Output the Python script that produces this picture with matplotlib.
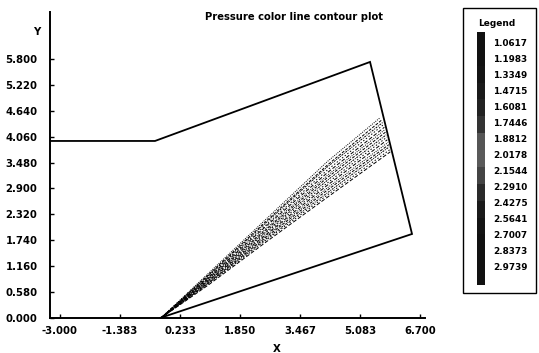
import matplotlib.pyplot as plt
from matplotlib.colors import ListedColormap
import numpy as np

# contour levels shown in the legend
levels = [1.0617, 1.1983, 1.3349, 1.4715, 1.6081, 1.7446, 1.8812, 2.0178,
          2.1544, 2.2910, 2.4275, 2.5641, 2.7007, 2.8373, 2.9739]

xticks = [-3.000, -1.383, 0.233, 1.850, 3.467, 5.083, 6.700]
yticks = [0.000, 0.580, 1.160, 1.740, 2.320, 2.900, 3.480, 4.060, 4.640, 5.220, 5.800]

# domain outline
outline_x = [-3.27, -0.44, 5.354, 6.485, -0.305]
outline_y = [3.963, 3.963, 5.732, 1.881, 0.0]

# contour lines: points at x = start, 1.0, 2.6, 4.2, end
c_start_x = -0.28
c_x1, c_x2, c_x3 = 1.0, 2.6, 4.2
c_y1 = [1.00, 0.97, 0.95, 0.94, 0.91, 0.90, 0.88, 0.86, 0.84, 0.83, 0.81, 0.79, 0.78, 0.76, 0.74]
c_y2 = [2.25, 2.20, 2.17, 2.12, 2.09, 2.04, 2.01, 1.97, 1.94, 1.90, 1.87, 1.84, 1.80, 1.77, 1.73]
c_y3 = [3.50, 3.42, 3.38, 3.31, 3.25, 3.19, 3.14, 3.08, 3.02, 2.97, 2.91, 2.86, 2.80, 2.75, 2.70]
c_end_x = [5.62, 5.68, 5.70, 5.72, 5.74, 5.76, 5.77, 5.79, 5.81, 5.82, 5.84, 5.86, 5.87, 5.89, 5.90]
c_end_y = [4.48, 4.44, 4.38, 4.33, 4.27, 4.22, 4.16, 4.10, 4.05, 3.99, 3.93, 3.88, 3.83, 3.77, 3.72]

fig = plt.figure(figsize=(5.39, 3.53), dpi=100, facecolor='w')
W, H = 539.0, 353.0
ax = fig.add_axes([50/W, 1-318/H, 375/W, 306/H])

ax.plot(outline_x, outline_y, color='k', lw=1.3, solid_joinstyle='miter')

styles = [(0, (1, 1.2)), (0, (3, 1.5)), (0, (2, 1, 1, 1)), (0, (1.5, 2)), (0, (4, 2))]
for i in range(len(levels)):
    xs = [c_start_x, c_x1, c_x2, c_x3, c_end_x[i]]
    ys = [0.0, c_y1[i], c_y2[i], c_y3[i], c_end_y[i]]
    ax.plot(xs, ys, color='k', lw=0.7, ls=styles[i % 5])

ax.set_xlim(-3.269, 6.835)
ax.set_ylim(0, 6.85)
ax.spines['top'].set_visible(False)
ax.spines['right'].set_visible(False)
ax.spines['left'].set_linewidth(1.4)
ax.spines['bottom'].set_linewidth(1.4)
ax.set_xticks(xticks)
ax.set_xticklabels(['%.3f' % v for v in xticks])
ax.set_yticks(yticks)
ax.set_yticklabels(['%.3f' % v for v in yticks])
ax.tick_params(direction='in', length=3, width=1, labelsize=7.3)
ax.tick_params(axis='y', pad=9)
ax.tick_params(axis='x', pad=6)
for lab in ax.get_xticklabels() + ax.get_yticklabels():
    lab.set_fontweight('bold')

fig.text(37/W, 1-32/H, 'Y', fontsize=7.3, fontweight='bold', ha='center', va='center')
fig.text(277/W, 1-349/H, 'X', fontsize=7.3, fontweight='bold', ha='center', va='center')
fig.text(294/W, 1-17/H, 'Pressure color line contour plot', fontsize=7.2,
         fontweight='bold', ha='center', va='center')

# legend box
box = plt.Rectangle((463/W, 1-293/H), 73/W, 285/H, transform=fig.transFigure,
                    fill=False, ec='k', lw=1)
fig.add_artist(box)
fig.text(478/W, 1-24/H, 'Legend', fontsize=6.5, fontweight='bold', ha='left', va='center')

bar_colors = ['#111111', '#111111', '#141414', '#1a1a1a', '#222222', '#333333', '#555555',
              '#5a5a5a', '#444444', '#2a2a2a', '#1a1a1a', '#141414', '#111111', '#111111', '#111111']
cax = fig.add_axes([477/W, 1-285/H, 8/W, 253/H])
cax.imshow(np.array(levels).reshape(-1, 1), cmap=ListedColormap(bar_colors), aspect='auto')
cax.axis('off')

for i, v in enumerate(levels):
    fig.text(493/W, 1-(43 + i*16.07)/H, '%.4f' % v, fontsize=6.4, fontweight='bold',
             ha='left', va='center')

fig.savefig('out.png', dpi=100)
